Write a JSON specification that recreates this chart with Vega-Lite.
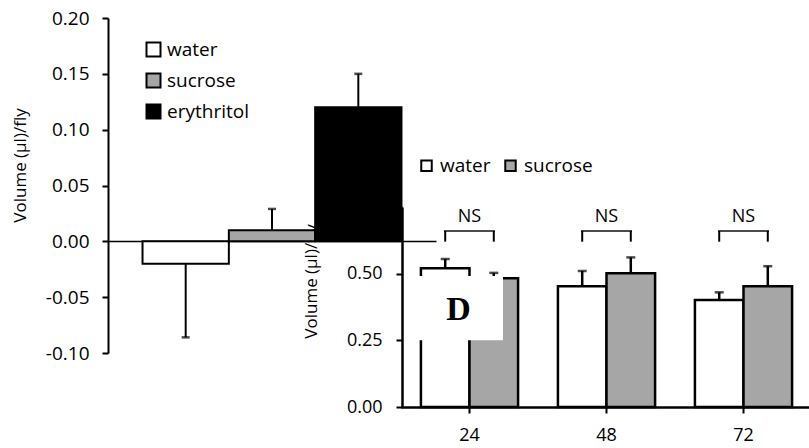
{
  "$schema": "https://vega.github.io/schema/vega-lite/v6.json",
  "width": 701,
  "height": 389,
  "autosize": {"type": "none"},
  "padding": {"left": 108, "top": 18, "right": 0, "bottom": 41},
  "background": "white",
  "config": {
    "font": "Open Sans",
    "view": {"stroke": null},
    "locale": {"number": {"decimal": ".", "thousands": ",", "grouping": [3], "currency": ["$", ""], "minus": "-"}},
    "axis": {"domainColor": "black", "tickColor": "black", "labelColor": "black", "titleColor": "black", "grid": false, "titleFontWeight": "normal"},
    "legend": {"padding": 0, "labelColor": "black", "symbolType": "square", "symbolStrokeColor": "black", "symbolStrokeWidth": 2, "labelFontSize": 19, "title": null}
  },
  "datasets": {
    "single": [
      {"solution": "water", "volume": -0.02, "whisker": -0.086},
      {"solution": "sucrose", "volume": 0.01, "whisker": 0.029},
      {"solution": "erythritol", "volume": 0.12, "whisker": 0.15}
    ],
    "hours": [
      {"hour": "24", "solution": "water", "volume": 0.52, "whisker": 0.555, "test": "NS", "panel": "D"},
      {"hour": "24", "solution": "sucrose", "volume": 0.483, "whisker": 0.503, "test": "NS", "panel": ""},
      {"hour": "48", "solution": "water", "volume": 0.453, "whisker": 0.51, "test": "NS", "panel": ""},
      {"hour": "48", "solution": "sucrose", "volume": 0.502, "whisker": 0.561, "test": "NS", "panel": ""},
      {"hour": "72", "solution": "water", "volume": 0.401, "whisker": 0.43, "test": "NS", "panel": ""},
      {"hour": "72", "solution": "sucrose", "volume": 0.453, "whisker": 0.528, "test": "NS", "panel": ""}
    ]
  },
  "layer": [
    {
      "data": {"name": "single"},
      "encoding": {
        "x": {
          "field": "solution", "type": "nominal", "sort": ["water", "sucrose", "erythritol"],
          "scale": {"range": [0, 328], "paddingInner": 0, "paddingOuter": 0.4},
          "axis": {"orient": "bottom", "offset": -166, "labels": false, "ticks": false, "title": null, "domainWidth": 1.5}
        },
        "y": {
          "field": "volume", "type": "quantitative", "title": "Volume (µl)/fly",
          "scale": {"domain": [-0.1, 0.2], "range": [335, 0], "zero": false, "nice": false},
          "axis": {
            "orient": "left", "values": [-0.1, -0.05, 0, 0.05, 0.1, 0.15, 0.2], "format": ".2f",
            "domainWidth": 2, "tickWidth": 2, "tickSize": 6, "labelFontSize": 19, "labelPadding": 13,
            "titleFontSize": 17, "titleAngle": 270, "titleAlign": "center", "titleBaseline": "middle", "titleX": -88, "titleY": 147
          }
        }
      },
      "layer": [
        {
          "mark": {"type": "rule", "color": "black", "strokeWidth": 2},
          "encoding": {"y2": {"field": "whisker"}}
        },
        {
          "mark": {"type": "tick", "color": "black", "orient": "horizontal", "size": 8, "thickness": 2.5},
          "encoding": {"y": {"field": "whisker", "type": "quantitative", "title": "Volume (µl)/fly"}}
        },
        {
          "mark": {"type": "bar", "stroke": "black", "strokeWidth": 2},
          "encoding": {
            "fill": {
              "field": "solution", "type": "nominal",
              "scale": {"domain": ["water", "sucrose", "erythritol"], "range": ["white", "#a6a6a6", "black"]},
              "legend": {"orient": "none", "legendX": 36, "legendY": 22, "direction": "vertical", "symbolSize": 196, "rowPadding": 8, "labelOffset": 4}
            }
          }
        }
      ]
    },
    {
      "data": {"name": "hours"},
      "encoding": {
        "x": {
          "field": "hour", "type": "nominal", "sort": ["24", "48", "72"],
          "scale": {"range": [293, 704], "paddingInner": 0, "paddingOuter": 0},
          "axis": {"orient": "bottom", "labelAngle": 0, "title": null, "domainWidth": 2.5, "tickWidth": 2, "tickSize": 6, "labelFontSize": 18, "labelPadding": 13}
        },
        "y": {
          "field": "volume", "type": "quantitative", "title": "Volume (µl)/fly",
          "scale": {"domain": [0, 0.75], "range": [389, 189], "zero": false, "nice": false},
          "axis": {
            "orient": "left", "offset": -294, "values": [0, 0.25, 0.5, 0.75], "format": ".2f",
            "domainWidth": 2.5, "tickWidth": 2, "tickSize": 6, "labelFontSize": 18, "labelPadding": 14,
            "titleFontSize": 17, "titleAngle": 270, "titleAlign": "center", "titleBaseline": "middle", "titleX": -91, "titleY": 263
          }
        }
      },
      "layer": [
        {
          "mark": {"type": "rule", "color": "black", "strokeWidth": 2.5},
          "encoding": {
            "xOffset": {"field": "solution", "type": "nominal", "sort": ["water", "sucrose"], "scale": {"paddingInner": 0, "paddingOuter": 0.41}},
            "y2": {"field": "whisker"}
          }
        },
        {
          "mark": {"type": "tick", "color": "black", "orient": "horizontal", "size": 9, "thickness": 2.5},
          "encoding": {
            "xOffset": {"field": "solution", "type": "nominal", "sort": ["water", "sucrose"]},
            "y": {"field": "whisker", "type": "quantitative", "title": "Volume (µl)/fly"}
          }
        },
        {
          "mark": {"type": "bar", "stroke": "black", "strokeWidth": 2.5},
          "encoding": {
            "xOffset": {"field": "solution", "type": "nominal", "sort": ["water", "sucrose"]},
            "fill": {
              "field": "solution", "type": "nominal",
              "scale": {"domain": ["water", "sucrose"], "range": ["white", "#a6a6a6"]},
              "legend": {"orient": "none", "legendX": 309, "legendY": 138, "direction": "horizontal", "symbolSize": 110, "columnPadding": 10, "labelOffset": 4}
            }
          }
        },
        {
          "transform": [{"filter": "datum.panel == 'D'"}],
          "mark": {"type": "bar", "fill": "white", "width": 97, "xOffset": -15},
          "encoding": {
            "y": {"datum": 0.25},
            "y2": {"datum": 0.491}
          }
        },
        {
          "transform": [{"filter": "datum.panel == 'D'"}],
          "mark": {"type": "text", "font": "Liberation Serif", "fontWeight": "bold", "fontSize": 34, "color": "black", "baseline": "middle", "dx": -11},
          "encoding": {
            "y": {"datum": 0.362},
            "text": {"field": "panel"}
          }
        },
        {
          "mark": {"type": "rule", "color": "black", "strokeWidth": 2},
          "encoding": {
            "xOffset": {"field": "solution", "type": "nominal", "sort": ["water", "sucrose"]},
            "y": {"datum": 0.62},
            "y2": {"datum": 0.66}
          }
        },
        {
          "transform": [{"filter": "datum.solution == 'water'"}],
          "mark": {"type": "tick", "color": "black", "orient": "horizontal", "size": 51, "thickness": 2},
          "encoding": {"y": {"datum": 0.66}}
        },
        {
          "transform": [{"filter": "datum.solution == 'water'"}],
          "mark": {"type": "text", "fontSize": 18, "color": "black", "baseline": "middle"},
          "encoding": {"y": {"datum": 0.712}, "text": {"field": "test"}}
        }
      ]
    }
  ],
  "resolve": {
    "scale": {"x": "independent", "y": "independent", "fill": "independent"},
    "axis": {"x": "independent", "y": "independent"},
    "legend": {"fill": "independent"}
  }
}
